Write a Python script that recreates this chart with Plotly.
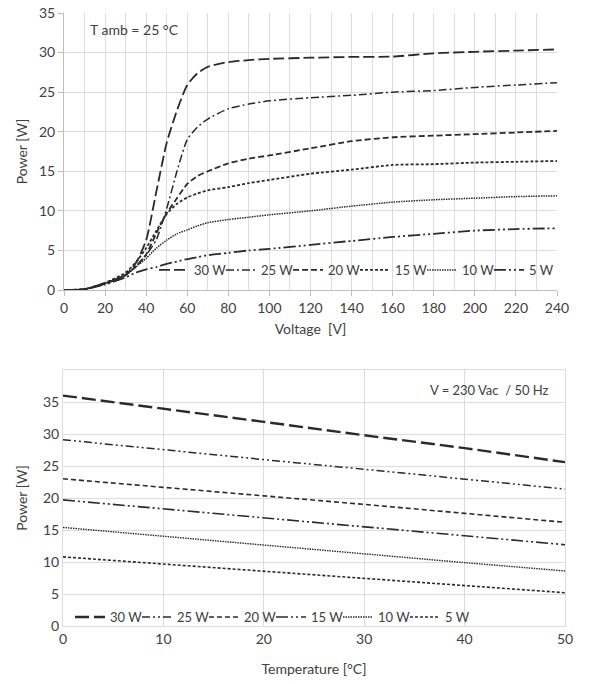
import plotly.graph_objects as go

# ---------------- data: top chart (Power vs Voltage, T amb = 25 °C) ----------------
voltage = [0, 10, 20, 30, 35, 40, 45, 50, 55, 60, 65, 70, 80, 90, 100, 120, 140, 160, 180, 200, 220, 240]
p30_v = [0, 0.1, 0.9, 1.9, 3.4, 6.3, 12.5, 18.6, 22.7, 25.9, 27.4, 28.2, 28.8, 29.05, 29.2, 29.35, 29.45, 29.5, 29.9, 30.1, 30.25, 30.4]
p25_v = [0, 0.1, 0.8, 1.9, 3.0, 4.4, 6.4, 10.3, 15.0, 19.0, 20.6, 21.6, 22.9, 23.5, 23.9, 24.3, 24.6, 25.0, 25.2, 25.6, 25.9, 26.2]
p20_v = [0, 0.1, 0.8, 1.9, 3.0, 4.5, 7.2, 9.7, 11.6, 13.4, 14.4, 15.0, 16.0, 16.6, 17.0, 17.9, 18.8, 19.3, 19.5, 19.7, 19.9, 20.1]
p15_v = [0, 0.1, 0.9, 2.2, 3.5, 5.3, 7.5, 9.6, 10.9, 11.7, 12.2, 12.6, 13.0, 13.5, 13.9, 14.7, 15.2, 15.8, 15.9, 16.1, 16.2, 16.3]
p10_v = [0, 0.1, 0.8, 1.9, 2.9, 4.0, 5.3, 6.3, 7.1, 7.6, 8.1, 8.5, 8.9, 9.2, 9.5, 10.0, 10.6, 11.1, 11.4, 11.6, 11.8, 11.9]
p5_v = [0, 0.1, 0.7, 1.6, 2.2, 2.6, 2.9, 3.3, 3.6, 3.9, 4.15, 4.4, 4.7, 5.0, 5.2, 5.7, 6.2, 6.7, 7.1, 7.5, 7.7, 7.8]

# ---------------- data: bottom chart (Power vs Temperature, 230 Vac / 50 Hz) ----------------
temperature = [0, 10, 20, 30, 40, 50]
p30_t = [36.0, 34.0, 31.9, 29.8, 27.8, 25.6]
p25_t = [29.1, 27.5, 26.0, 24.5, 22.9, 21.4]
p20_t = [23.0, 21.7, 20.3, 19.0, 17.6, 16.2]
p15_t = [19.7, 18.3, 16.9, 15.6, 14.1, 12.7]
p10_t = [15.4, 14.0, 12.7, 11.3, 9.9, 8.6]
p5_t = [10.8, 9.7, 8.6, 7.5, 6.3, 5.2]

series_names = ["30 W", "25 W", "20 W", "15 W", "10 W", "5 W"]
top_x_ticks = [0, 20, 40, 60, 80, 100, 120, 140, 160, 180, 200, 220, 240]
top_y_ticks = [0, 5, 10, 15, 20, 25, 30, 35]
bot_x_ticks = [0, 10, 20, 30, 40, 50]
bot_y_ticks = [0, 5, 10, 15, 20, 25, 30, 35]

W, H = 590, 684
ML, MR, MT, MB = 63, 25, 13, 58
PW, PH = W - ML - MR, H - MT - MB
TXT = "#404040"
GRID = "#dcdcdc"
LINE = "#2b2b2b"
FONT = "Lato, 'Open Sans', sans-serif"


def fx(px):
    return (px - ML) / PW


def fy(py):
    return (H - MB - py) / PH


top_styles = [
    dict(dash="11px,4px", width=1.8),
    dict(dash="8px,3px,2px,3px", width=1.5),
    dict(dash="6px,3px", width=1.8),
    dict(dash="3px,2px", width=1.8),
    dict(dash="1.5px,1px", width=1.5),
    dict(dash="12px,3px,2px,3px,2px,3px", width=1.8),
]
bot_styles = [
    dict(dash="14px,5px", width=2.4),
    dict(dash="8px,3px,2px,3px,2px,3px", width=1.5),
    dict(dash="5px,3px", width=1.6),
    dict(dash="12px,3px,2px,3px,2px,3px", width=1.6),
    dict(dash="1.5px,1px", width=1.4),
    dict(dash="3px,2px", width=1.6),
]

fig = go.Figure()

top_data = [p30_v, p25_v, p20_v, p15_v, p10_v, p5_v]
for name, ys, st in zip(series_names, top_data, top_styles):
    fig.add_trace(go.Scatter(
        x=voltage, y=ys, name=name, mode="lines",
        line=dict(color=LINE, width=st["width"], dash=st["dash"], shape="spline", smoothing=0.6),
        xaxis="x", yaxis="y", legend="legend",
    ))

bot_data = [p30_t, p25_t, p20_t, p15_t, p10_t, p5_t]
for name, ys, st in zip(series_names, bot_data, bot_styles):
    fig.add_trace(go.Scatter(
        x=temperature, y=ys, name=name, mode="lines",
        line=dict(color=LINE, width=st["width"], dash=st["dash"]),
        xaxis="x2", yaxis="y2", legend="legend2",
    ))

tickfont = dict(family=FONT, size=14, color=TXT)
titlefont = dict(family=FONT, size=14, color=TXT)

fig.update_layout(
    template="none",
    width=W, height=H,
    margin=dict(l=ML, r=MR, t=MT, b=MB),
    paper_bgcolor="white", plot_bgcolor="white",
    font=dict(family=FONT, color=TXT, size=14),
    xaxis=dict(
        domain=[fx(64), fx(557)], anchor="y",
        range=[0, 240], tickvals=top_x_ticks, showgrid=True, gridcolor=GRID, gridwidth=1,
        minor=dict(dtick=10, tick0=0, showgrid=True, gridcolor=GRID, gridwidth=1),
        showline=True, linecolor="#bfbfbf", linewidth=1,
        ticks="outside", ticklen=5, tickcolor="#bfbfbf",
        zeroline=False, tickfont=tickfont, automargin=False,
        title=dict(text="Voltage  [V]", font=titlefont, standoff=9),
    ),
    yaxis=dict(
        domain=[fy(290), fy(13)], anchor="x",
        range=[0, 35], tickvals=top_y_ticks, showgrid=True, gridcolor=GRID, gridwidth=1,
        showline=True, linecolor="#bfbfbf", linewidth=1,
        ticks="outside", ticklen=5, tickcolor="#bfbfbf",
        zeroline=False, tickfont=tickfont, automargin=False,
        title=dict(text="Power [W]", font=titlefont, standoff=8),
    ),
    xaxis2=dict(
        domain=[fx(63), fx(565)], anchor="y2",
        range=[0, 50], tickvals=bot_x_ticks, showgrid=True, gridcolor=GRID, gridwidth=1,
        showline=True, mirror=True, linecolor=GRID, linewidth=1,
        ticks="", zeroline=False, tickfont=tickfont, automargin=False,
        title=dict(text="Temperature [°C]", font=titlefont, standoff=18),
    ),
    yaxis2=dict(
        domain=[fy(626), fy(370)], anchor="x2",
        range=[0, 40], tickvals=bot_y_ticks, showgrid=True, gridcolor=GRID, gridwidth=1,
        showline=True, mirror=True, linecolor=GRID, linewidth=1,
        ticks="", zeroline=False, tickfont=tickfont, automargin=False,
        title=dict(text="Power [W]", font=titlefont, standoff=12),
    ),
    legend=dict(
        orientation="h", x=fx(154), y=fy(270), xanchor="left", yanchor="middle",
        bgcolor="rgba(255,255,255,0)", font=dict(family=FONT, size=13, color=TXT),
        itemwidth=30, tracegroupgap=0, entrywidth=22,
    ),
    legend2=dict(
        orientation="h", x=fx(70), y=fy(617), xanchor="left", yanchor="middle",
        bgcolor="rgba(255,255,255,0)", font=dict(family=FONT, size=13, color=TXT),
        itemwidth=30, tracegroupgap=0, entrywidth=22,
    ),
    annotations=[
        dict(text="T amb = 25 °C", x=fx(88), y=fy(30), xref="paper", yref="paper",
             xanchor="left", yanchor="middle", showarrow=False,
             font=dict(family=FONT, size=14, color=TXT)),
        dict(text="V = 230 Vac  / 50 Hz", x=fx(551), y=fy(390), xref="paper", yref="paper",
             xanchor="right", yanchor="middle", showarrow=False,
             font=dict(family=FONT, size=13, color=TXT)),
    ],
)

fig.write_html("out.html")
